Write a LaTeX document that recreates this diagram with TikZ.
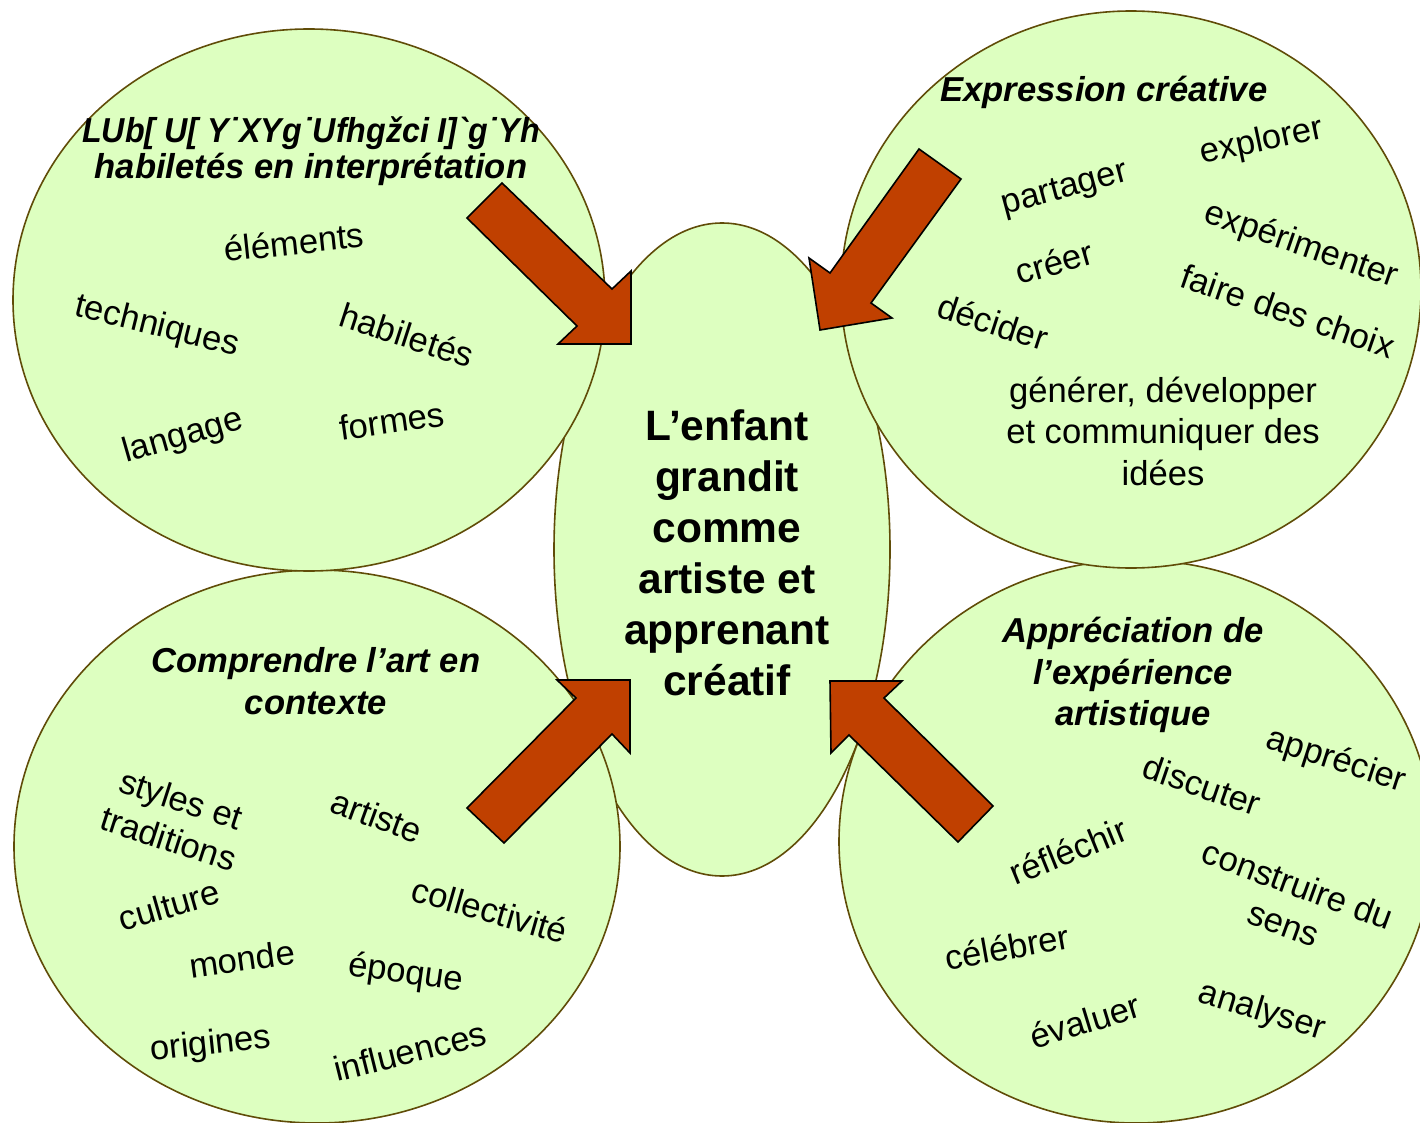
\documentclass[tikz,border=0pt]{standalone}
\usepackage{fontspec}
\setmainfont{Liberation Sans}[Ligatures=TeXOff]
\usetikzlibrary{shapes.geometric}
\definecolor{bubblefill}{RGB}{221,255,192}
\definecolor{bubbleline}{RGB}{96,76,8}
\definecolor{arrowfill}{RGB}{192,64,0}
\newcommand{\wordfont}{\fontsize{34.6}{41.5}\selectfont}
\newcommand{\bigfont}{\fontsize{42.5}{51}\selectfont\bfseries}
\begin{document}
\begin{tikzpicture}[x=1pt,y=-1pt,
  bubble/.style={ellipse, draw=bubbleline, fill=bubblefill, line width=1.6pt, inner sep=0pt},
  word/.style={font=\wordfont, inner sep=0pt, align=center},
  ttl/.style={font=\wordfont\bfseries\itshape, inner sep=0pt, align=center},
  bigarrow/.style={draw=black, fill=arrowfill, line width=1.6pt, line join=miter}]
\useasboundingbox (0,0) rectangle (1420,1123);

% bubbles (drawing order matters)
\node[bubble, minimum width=336pt, minimum height=653pt] (core) at (722,549.5) {};
\node[bubble, minimum width=606pt, minimum height=553pt] (ctx) at (317,846.5) {};
\node[bubble, minimum width=594pt, minimum height=563pt] (appr) at (1136,841.5) {};
\node[bubble, minimum width=592pt, minimum height=542pt] (lang) at (309,300) {};
\node[bubble, minimum width=580pt, minimum height=557pt] (expr) at (1131,289.5) {};

% centre text
\node[font=\bigfont, align=center, inner sep=0pt] (coreT) at (727,553)
  {L’enfant\\grandit\\comme\\artiste et\\apprenant\\créatif};

% top-left
\node[ttl] (langT) at (311,151) {\scalebox{0.93}[1]{LUb[ U[ Y˙XYg˙Ufhgžci I]`g˙Yh}\\[-5.5pt]habiletés en interprétation};
\node[word, rotate=6] (w1) at (294,242) {éléments};
\node[word, rotate=-14] (w2) at (157,327) {techniques};
\node[word, rotate=-18] (w3) at (407,335) {habiletés};
\node[word, rotate=16] (w4) at (183,437) {langage};
\node[word, rotate=8] (w5) at (392,421) {formes};

% top-right
\node[ttl] (exprT) at (1104,92) {Expression créative};
\node[word, rotate=12] (e1) at (1262,142) {explorer};
\node[word, rotate=15] (e2) at (1065,190) {partager};
\node[word, rotate=-19] (e3) at (1301,246) {expérimenter};
\node[word, rotate=16] (e4) at (1054,262) {créer};
\node[word, rotate=-19] (e5) at (1288,311) {faire des choix};
\node[word, rotate=-18] (e6) at (993,322) {décider};
\node[word] (e7) at (1163,431) {générer, développer\\et communiquer des\\idées};

% bottom-left
\node[ttl] (ctxT) at (316,681) {Comprendre l’art en\\contexte};
\node[word, rotate=-18] (c1) at (175,819) {styles et\\traditions};
\node[word, rotate=-20] (c2) at (377,816) {artiste};
\node[word, rotate=16] (c3) at (169,905) {culture};
\node[word, rotate=-16] (c4) at (490,910) {collectivité};
\node[word, rotate=8] (c5) at (242,959) {monde};
\node[word, rotate=-8] (c6) at (406,974) {époque};
\node[word, rotate=6] (c7) at (211,1045) {origines};
\node[word, rotate=14] (c8) at (410,1051) {influences};

% bottom-right
\node[ttl] (apprT) at (1133,675) {Appréciation de\\l’expérience\\artistique};
\node[word, rotate=-18] (a1) at (1336,761) {apprécier};
\node[word, rotate=-19] (a2) at (1202,785) {discuter};
\node[word, rotate=22] (a3) at (1068,851) {réfléchir};
\node[word, rotate=-20] (a4) at (1291,904) {construire du\\sens};
\node[word, rotate=10] (a5) at (1007,947) {célébrer};
\node[word, rotate=17] (a6) at (1085,1021) {évaluer};
\node[word, rotate=-17] (a7) at (1262,1012) {analyser};

% block arrows
\draw[bigarrow] (502,183) -- (612,289) -- (631,271) -- (631,344) -- (558,344) -- (577,326) -- (467,218) -- cycle;
\draw[bigarrow] (919,149) -- (961,179) -- (871,303) -- (892,318) -- (820,330) -- (809,258) -- (830,273) -- cycle;
\draw[bigarrow] (467,808) -- (576,698) -- (557,680) -- (630,680) -- (630,753) -- (612,734) -- (504,843) -- cycle;
\draw[bigarrow] (830,681) -- (902,681) -- (884,698) -- (993,806) -- (958,842) -- (849,735) -- (831,753) -- cycle;
\end{tikzpicture}
\end{document}
